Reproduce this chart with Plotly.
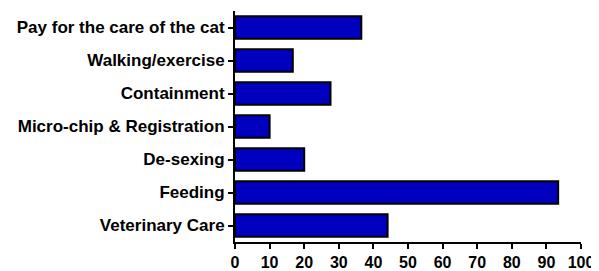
import plotly.graph_objects as go

categories = ["Veterinary Care", "Feeding", "De-sexing", "Micro-chip & Registration",
              "Containment", "Walking/exercise", "Pay for the care of the cat"]
values = [44.1, 93.4, 20.0, 10.0, 27.6, 16.7, 36.5]
x_ticks = [0, 10, 20, 30, 40, 50, 60, 70, 80, 90, 100]

fig = go.Figure(go.Bar(
    y=categories, x=values, orientation="h",
    marker=dict(color="#0000BE", line=dict(color="black", width=2)),
    width=0.68,
))

yfont = dict(family="Liberation Sans, Arial, sans-serif", size=17, color="black", weight="bold")
xfont = dict(family="Liberation Sans, Arial, sans-serif", size=16, color="black", weight="bold")

fig.update_layout(
    width=591, height=263,
    margin=dict(l=227, r=18, t=3, b=29),
    paper_bgcolor="white", plot_bgcolor="white",
    showlegend=False,
    xaxis=dict(range=[0, 100], tickvals=x_ticks, showline=True, linecolor="black", linewidth=2,
               ticks="outside", ticklen=5, tickwidth=2, tickcolor="black", automargin=False,
               showgrid=False, zeroline=False, tickfont=xfont),
    yaxis=dict(range=[-0.5, 6.5], showline=True, linecolor="black", linewidth=2,
               ticks="outside", ticklen=5, tickwidth=2, tickcolor="black", automargin=False,
               showgrid=False, zeroline=False, tickfont=yfont, categoryorder="array",
               categoryarray=categories),
)

fig.write_html("out.html")
